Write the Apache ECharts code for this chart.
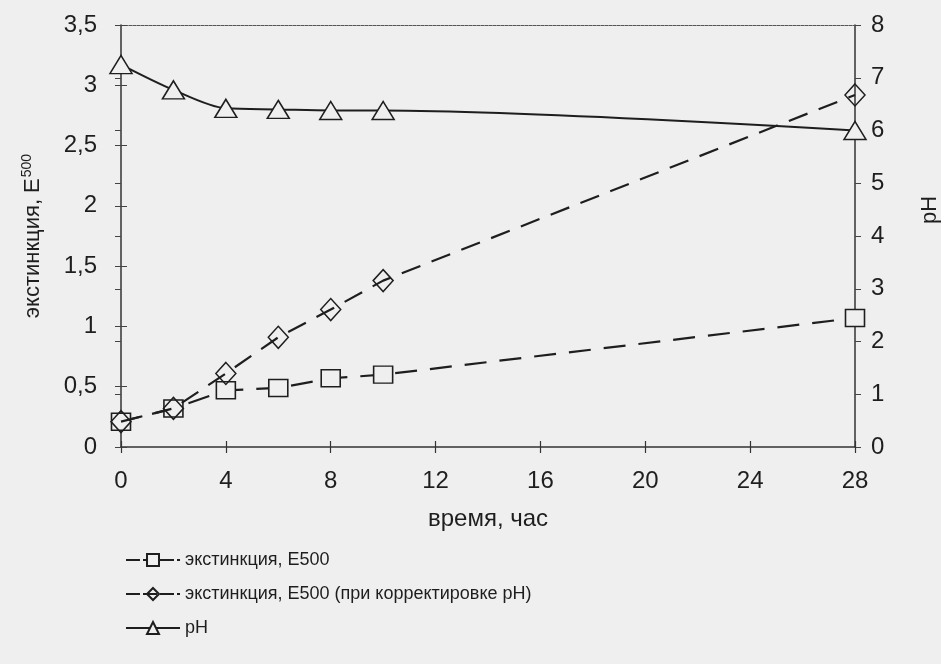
<!DOCTYPE html>
<html>
<head>
<meta charset="utf-8">
<script src="https://cdn.jsdelivr.net/npm/echarts@6/dist/echarts.min.js"></script>
<style>
  html, body { margin: 0; padding: 0; background: #efefef; }
  #chart { width: 941px; height: 664px; }
</style>
</head>
<body>
<div id="chart"></div>
<script>
// время, час
const hours = [0, 2, 4, 6, 8, 10, 28];
// экстинкция, E500
const e500 = [0.21, 0.32, 0.47, 0.49, 0.57, 0.60, 1.07];
// экстинкция, E500 (при корректировке pH)
const e500Corr = [0.21, 0.32, 0.61, 0.91, 1.14, 1.38, 2.92];
// pH
const phValues = [7.25, 6.77, 6.42, 6.40, 6.38, 6.38, 6.0];

const leftTicks = [0, 0.5, 1, 1.5, 2, 2.5, 3, 3.5];
const rightTicks = [0, 1, 2, 3, 4, 5, 6, 7, 8];
const xTicks = [0, 4, 8, 12, 16, 20, 24, 28];

const seriesNames = ['экстинкция, E500', 'экстинкция, E500 (при корректировке pH)', 'pH'];

const bg = '#efefef';
const ink = '#1e1e1e';
const font = '"Liberation Sans", Arial, sans-serif';

function pairs(xs, ys) {
  return xs.map((x, i) => [x, ys[i]]);
}
function comma(v) {
  return String(v).replace('.', ',');
}

const chart = echarts.init(document.getElementById('chart'));

chart.setOption({
  backgroundColor: bg,
  animation: false,
  textStyle: { fontFamily: font, color: ink },
  grid: { left: 121, right: 86, top: 25, bottom: 217, outerBoundsMode: 'none', containLabel: false },
  legend: {
    orient: 'vertical',
    left: 120,
    top: 546,
    itemWidth: 54,
    itemHeight: 15,
    itemGap: 16,
    selectedMode: false,
    data: [
      { name: seriesNames[0], lineStyle: { type: [14, 3] } },
      { name: seriesNames[1], lineStyle: { type: [14, 3] } },
      { name: seriesNames[2] }
    ],
    textStyle: { fontSize: 18, color: ink, fontFamily: font }
  },
  xAxis: [
    {
      type: 'value',
      min: xTicks[0],
      max: xTicks[xTicks.length - 1],
      interval: 4,
      position: 'bottom',
      name: 'время, час',
      nameLocation: 'middle',
      nameGap: 60,
      nameTextStyle: { fontSize: 24, color: ink },
      axisLine: { show: true, onZero: false, lineStyle: { color: '#333', width: 1.5 } },
      axisTick: { show: true, length: 6, lineStyle: { color: '#333', width: 1.2 } },
      axisLabel: { fontSize: 24, color: ink, margin: 22 },
      splitLine: { show: false }
    },
    {
      // верхняя рамка
      type: 'value',
      min: 0,
      max: 28,
      position: 'top',
      axisLine: { show: true, onZero: false, lineStyle: { color: '#555', width: 1, type: [3, 1] } },
      axisTick: { show: false },
      axisLabel: { show: false },
      splitLine: { show: false }
    },
    {
      // внутренние засечки
      type: 'value',
      min: 0,
      max: 28,
      interval: 4,
      position: 'bottom',
      axisLine: { show: false },
      axisTick: { show: true, inside: true, length: 6, lineStyle: { color: '#333', width: 1.2 } },
      axisLabel: { show: false },
      splitLine: { show: false }
    }
  ],
  yAxis: [
    {
      type: 'value',
      min: leftTicks[0],
      max: leftTicks[leftTicks.length - 1],
      interval: 0.5,
      position: 'left',
      name: '{a|экстинкция, E}{s|500}',
      nameLocation: 'middle',
      nameRotate: 90,
      nameGap: 75,
      nameTextStyle: {
        rich: {
          a: { fontSize: 22, color: ink, fontFamily: font },
          s: { fontSize: 14, color: ink, fontFamily: font, padding: [0, 0, 12, 1] }
        }
      },
      axisLine: { show: true, onZero: false, lineStyle: { color: '#333', width: 1.5 } },
      axisTick: { show: true, length: 6, lineStyle: { color: '#444', width: 1 } },
      axisLabel: { fontSize: 24, color: ink, margin: 24, formatter: comma },
      splitLine: { show: false }
    },
    {
      type: 'value',
      min: rightTicks[0],
      max: rightTicks[rightTicks.length - 1],
      interval: 1,
      position: 'right',
      name: 'pH',
      nameLocation: 'middle',
      nameRotate: 90,
      nameGap: 64,
      nameTextStyle: { fontSize: 22, color: ink, padding: [0, 0, 0, 52] },
      axisLine: { show: true, onZero: false, lineStyle: { color: '#333', width: 1.5 } },
      axisTick: { show: true, length: 6, lineStyle: { color: '#444', width: 1 } },
      axisLabel: { fontSize: 24, color: ink, margin: 16 },
      splitLine: { show: false }
    },
    {
      type: 'value',
      min: 0,
      max: 3.5,
      interval: 0.5,
      position: 'left',
      axisLine: { show: false },
      axisTick: { show: true, inside: true, length: 6, lineStyle: { color: '#444', width: 1 } },
      axisLabel: { show: false },
      splitLine: { show: false }
    },
    {
      type: 'value',
      min: 0,
      max: 8,
      interval: 1,
      position: 'right',
      axisLine: { show: false },
      axisTick: { show: true, inside: true, length: 6, lineStyle: { color: '#444', width: 1 } },
      axisLabel: { show: false },
      splitLine: { show: false }
    }
  ],
  series: [
    {
      name: seriesNames[0],
      type: 'line',
      xAxisIndex: 0,
      yAxisIndex: 0,
      data: pairs(hours, e500),
      symbol: 'rect',
      symbolSize: [19, 17],
      showAllSymbol: true,
      lineStyle: { color: ink, width: 2.2, type: [22, 13] },
      itemStyle: { color: bg, borderColor: ink, borderWidth: 1.5 },
      z: 3
    },
    {
      name: seriesNames[1],
      type: 'line',
      xAxisIndex: 0,
      yAxisIndex: 0,
      data: pairs(hours, e500Corr),
      symbol: 'diamond',
      symbolSize: [20, 22],
      showAllSymbol: true,
      lineStyle: { color: ink, width: 2.2, type: [20, 12] },
      itemStyle: { color: 'rgba(0,0,0,0)', borderColor: ink, borderWidth: 1.5 },
      z: 4
    },
    {
      name: seriesNames[2],
      type: 'line',
      xAxisIndex: 0,
      yAxisIndex: 1,
      data: pairs(hours, phValues),
      symbol: 'triangle',
      symbolSize: [22, 18],
      showAllSymbol: true,
      smooth: 0.3,
      lineStyle: { color: ink, width: 2 },
      itemStyle: { color: bg, borderColor: ink, borderWidth: 1.5 },
      z: 5
    }
  ]
});
</script>
</body>
</html>
